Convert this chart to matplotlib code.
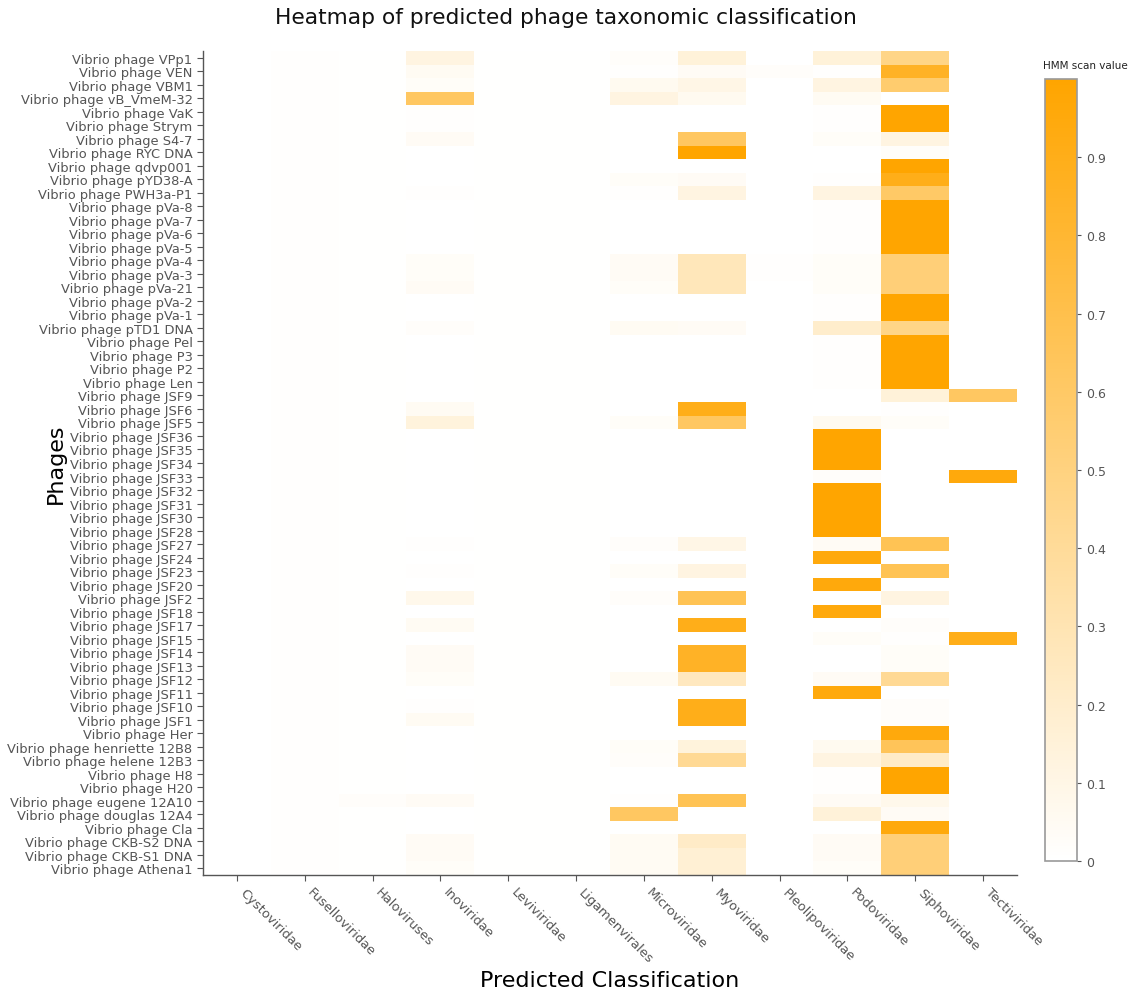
import numpy as np
import matplotlib
matplotlib.use("Agg")
import matplotlib.pyplot as plt
from matplotlib.colors import LinearSegmentedColormap

plt.rcParams['font.family'] = ['DejaVu Sans']

# 資料
phages = [
    "Vibrio phage VPp1", "Vibrio phage VEN", "Vibrio phage VBM1", "Vibrio phage vB_VmeM-32",
    "Vibrio phage VaK", "Vibrio phage Strym", "Vibrio phage S4-7", "Vibrio phage RYC DNA",
    "Vibrio phage qdvp001", "Vibrio phage pYD38-A", "Vibrio phage PWH3a-P1", "Vibrio phage pVa-8",
    "Vibrio phage pVa-7", "Vibrio phage pVa-6", "Vibrio phage pVa-5", "Vibrio phage pVa-4",
    "Vibrio phage pVa-3", "Vibrio phage pVa-21", "Vibrio phage pVa-2", "Vibrio phage pVa-1",
    "Vibrio phage pTD1 DNA", "Vibrio phage Pel", "Vibrio phage P3", "Vibrio phage P2",
    "Vibrio phage Len", "Vibrio phage JSF9", "Vibrio phage JSF6", "Vibrio phage JSF5",
    "Vibrio phage JSF36", "Vibrio phage JSF35", "Vibrio phage JSF34", "Vibrio phage JSF33",
    "Vibrio phage JSF32", "Vibrio phage JSF31", "Vibrio phage JSF30", "Vibrio phage JSF28",
    "Vibrio phage JSF27", "Vibrio phage JSF24", "Vibrio phage JSF23", "Vibrio phage JSF20",
    "Vibrio phage JSF2", "Vibrio phage JSF18", "Vibrio phage JSF17", "Vibrio phage JSF15",
    "Vibrio phage JSF14", "Vibrio phage JSF13", "Vibrio phage JSF12", "Vibrio phage JSF11",
    "Vibrio phage JSF10", "Vibrio phage JSF1", "Vibrio phage Her", "Vibrio phage henriette 12B8",
    "Vibrio phage helene 12B3", "Vibrio phage H8", "Vibrio phage H20", "Vibrio phage eugene 12A10",
    "Vibrio phage douglas 12A4", "Vibrio phage Cla", "Vibrio phage CKB-S2 DNA",
    "Vibrio phage CKB-S1 DNA", "Vibrio phage Athena1",
]

families = ["Cystoviridae", "Fuselloviridae", "Haloviruses", "Inoviridae", "Leviviridae",
            "Ligamenvirales", "Microviridae", "Myoviridae", "Pleolipoviridae", "Podoviridae",
            "Siphoviridae", "Tectiviridae"]

n = len(phages)

cysto = [0.0] * n
fusello = [0.01] * n
halo = [0.005] * 55 + [0.02] + [0.005] * 5
ino = [0.12, 0.05, 0.03, 0.62, 0.01, 0.01, 0.04, 0, 0, 0,
       0.01, 0, 0, 0, 0, 0.03, 0.03, 0.04, 0, 0,
       0.02, 0, 0, 0, 0, 0, 0.05, 0.14, 0, 0,
       0, 0, 0, 0, 0, 0, 0.01, 0, 0.01, 0,
       0.08, 0, 0.05, 0, 0.04, 0.04, 0.03, 0, 0.01, 0.05,
       0, 0, 0, 0, 0, 0.04, 0, 0, 0.04, 0.04, 0.03]
levi = [0.005] * n
ligamen = [0.005] * n
micro = [0.02, 0.01, 0.06, 0.12, 0, 0, 0, 0, 0, 0.03,
         0.01, 0, 0, 0, 0, 0.04, 0.04, 0.03, 0, 0,
         0.05, 0, 0, 0, 0, 0, 0, 0.03, 0, 0,
         0, 0, 0, 0, 0, 0, 0.02, 0, 0.03, 0,
         0.02, 0, 0, 0, 0, 0, 0.05, 0, 0, 0,
         0, 0.03, 0.02, 0, 0, 0.01, 0.62, 0, 0.05, 0.05, 0.05]
myo = [0.15, 0.04, 0.10, 0.06, 0, 0, 0.62, 1.0, 0, 0.04,
       0.12, 0, 0, 0, 0, 0.27, 0.27, 0.27, 0, 0,
       0.04, 0, 0, 0, 0, 0, 0.90, 0.62, 0, 0,
       0, 0, 0, 0, 0, 0, 0.10, 0, 0.12, 0,
       0.67, 0, 0.90, 0, 0.85, 0.85, 0.25, 0, 0.90, 0.90,
       0, 0.14, 0.42, 0, 0, 0.67, 0, 0, 0.22, 0.17, 0.17]
pleolipo = [0, 0.02, 0, 0, 0, 0, 0, 0, 0, 0,
            0, 0, 0, 0, 0, 0.01, 0.01, 0, 0, 0,
            0, 0, 0, 0, 0, 0, 0, 0, 0, 0,
            0, 0, 0, 0, 0, 0, 0, 0, 0, 0,
            0, 0, 0, 0, 0, 0, 0, 0, 0, 0,
            0, 0, 0, 0, 0, 0, 0, 0, 0, 0, 0]
podo = [0.15, 0.01, 0.12, 0.05, 0.01, 0.01, 0.03, 0, 0, 0.01,
        0.12, 0.01, 0.01, 0.01, 0.01, 0.03, 0.03, 0.03, 0.01, 0.01,
        0.20, 0.01, 0.01, 0.01, 0.01, 0, 0, 0.06, 1.0, 1.0,
        1.0, 0.02, 1.0, 1.0, 1.0, 1.0, 0.04, 0.95, 0, 0.95,
        0, 0.95, 0, 0.03, 0, 0, 0.04, 0.95, 0, 0,
        0, 0.06, 0.12, 0.01, 0.01, 0.04, 0.15, 0, 0.04, 0.04, 0.03]
sipho = [0.47, 0.85, 0.57, 0, 1.0, 1.0, 0.12, 0.02, 1.0, 0.90,
         0.60, 1.0, 1.0, 1.0, 1.0, 0.53, 0.53, 0.53, 1.0, 1.0,
         0.47, 1.0, 1.0, 1.0, 1.0, 0.15, 0.01, 0.03, 0, 0,
         0, 0, 0, 0, 0, 0, 0.67, 0, 0.67, 0,
         0.12, 0, 0.02, 0.01, 0.03, 0.03, 0.42, 0, 0.02, 0.02,
         0.95, 0.65, 0.22, 1.0, 1.0, 0.08, 0.04, 0.95, 0.53, 0.53, 0.53]
tecti = [0.0] * n
tecti[25] = 0.62
tecti[31] = 0.95
tecti[43] = 0.90

cbar_ticks = [0, 0.1, 0.2, 0.3, 0.4, 0.5, 0.6, 0.7, 0.8, 0.9]

matrix = np.column_stack([cysto, fusello, halo, ino, levi, ligamen,
                          micro, myo, pleolipo, podo, sipho, tecti])

# 繪圖
cmap = LinearSegmentedColormap.from_list("white_orange", ["#FFFFFF", "#FFA500"])

fig = plt.figure(figsize=(11.38, 9.95), dpi=100)
ax = fig.add_axes([203 / 1138, 1 - 876 / 995, 814 / 1138, 824 / 995])
cax = fig.add_axes([1045 / 1138, 1 - 862 / 995, 32 / 1138, 782 / 995])

mesh = ax.pcolormesh(matrix, cmap=cmap, vmin=0, vmax=1)
ax.set_xlim(0, len(families))
ax.set_ylim(n, 0)

ax.set_xticks(np.arange(len(families)) + 0.5)
ax.set_xticklabels(families, rotation=-45, ha='left', fontsize=9.4, color='#555555')
ax.set_yticks(np.arange(n) + 0.5)
ax.set_yticklabels(phages, fontsize=9.4, color='#555555')
ax.tick_params(axis='both', colors='#555555', length=4, width=0.8, labelcolor='#555555')

for side in ['top', 'right']:
    ax.spines[side].set_visible(False)
for side in ['left', 'bottom']:
    ax.spines[side].set_color('#555555')
    ax.spines[side].set_linewidth(1.0)

ax.set_xlabel('Predicted Classification', fontsize=16)
ax.xaxis.set_label_coords(0.5, -0.115)
ax.set_ylabel('Phages', fontsize=16)
ax.yaxis.set_label_coords(-0.168, 0.5)

cb = fig.colorbar(mesh, cax=cax, ticks=cbar_ticks)
cb.ax.set_yticklabels(['0' if t == 0 else f'{t:.1f}' for t in cbar_ticks])
cb.ax.tick_params(labelsize=9, colors='#555555', length=3)
cb.outline.set_edgecolor('#999999')
cb.outline.set_linewidth(1.2)
cax.text(-0.05, 1.012, 'HMM scan value', transform=cax.transAxes,
         ha='left', va='bottom', fontsize=7.5, color='#222222')

fig.text(0.497, 1 - 18 / 995, 'Heatmap of predicted phage taxonomic classification',
         ha='center', va='center', fontsize=15.7, color='#111111')

fig.savefig('out.png', dpi=100)
plt.close(fig)
